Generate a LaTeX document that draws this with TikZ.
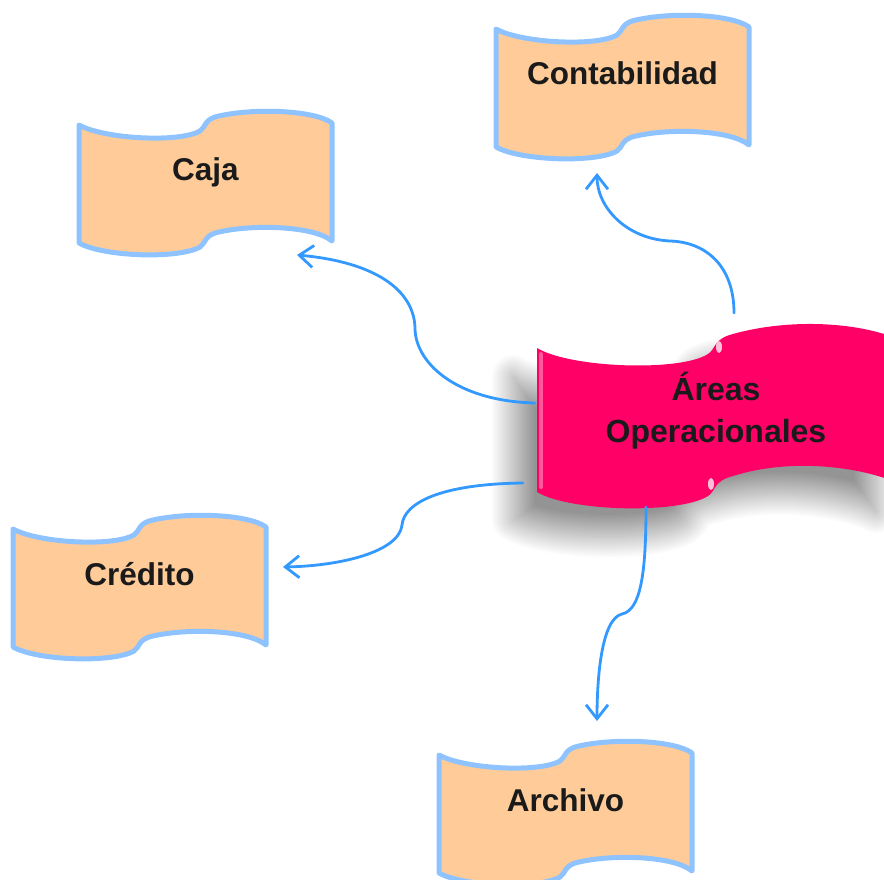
\documentclass[tikz,border=0pt]{standalone}
\usepackage{fontspec}
\setmainfont{Liberation Sans}
\usetikzlibrary{arrows.meta,shadows.blur}

\definecolor{peach}{HTML}{FFCC99}
\definecolor{rim}{HTML}{8EC3FF}
\definecolor{rosa}{HTML}{FF0066}
\definecolor{linkblue}{HTML}{3399FF}
\definecolor{ink}{HTML}{1A1A1A}

\tikzset{
  bannershape/.style={fill=peach, draw=rim, line width=5pt, line join=round, line cap=round},
  bannertext/.style={font=\fontsize{31.5}{38}\selectfont\bfseries, text=ink, inner sep=0pt, anchor=base},
  maintext/.style={font=\fontsize{32}{42}\selectfont\bfseries, text=ink, inner sep=0pt, align=center},
  link/.style={draw=linkblue, line width=2.8pt, line cap=round,
    -{Straight Barb[length=14pt,width=22pt]}},
  gloss/.style={fill=white, opacity=0.75}
}

% waving banner: #1,#2 = top-left corner, #3 = node name, #4 = label
\newcommand\wavebanner[4]{%
  \begin{scope}[shift={(#1,#2)}]
    \path[bannershape] (0,0)
      .. controls (25,14) and (100,18) .. (121,6)
      .. controls (127,2) and (125,-6) .. (140,-9)
      .. controls (175,-17) and (235,-15) .. (253,-2)
      -- (253,116)
      .. controls (235,101) and (175,99) .. (140,107)
      .. controls (125,110) and (127,118) .. (121,122)
      .. controls (100,134) and (25,132) .. (0,118)
      -- cycle;
    \node[bannertext] (#3) at (126.5,56) {#4};
  \end{scope}}

\begin{document}
\begin{tikzpicture}[x=1pt,y=-1pt]
  \useasboundingbox (0,0) rectangle (884,880);

  % outer banners
  \wavebanner{79}{125}{caja}{Caja}
  \wavebanner{496}{29}{conta}{Contabilidad}
  \wavebanner{13}{529}{credito}{Crédito}
  \wavebanner{439}{755}{archivo}{Archivo}

  % central banner with drop shadow
  \path[fill=rosa, blur shadow={shadow xshift=-24pt, shadow yshift=-28pt,
      shadow blur radius=22pt, shadow blur steps=60, shadow opacity=42}]
    (537,348)
    .. controls (570,368) and (680,372) .. (708,354)
    .. controls (716,349) and (713,339) .. (733,334)
    .. controls (790,318) and (860,322) .. (900,340)
    -- (900,484)
    .. controls (860,466) and (790,458) .. (733,476)
    .. controls (713,481) and (716,491) .. (708,496)
    .. controls (680,514) and (570,512) .. (537,492)
    -- cycle;
  % highlights on the central banner
  \draw[white, opacity=0.35, line width=4pt, line cap=round] (541,354) -- (541,487);
  \fill[gloss] (719,347) ellipse [x radius=3, y radius=6];
  \fill[gloss] (711,484) ellipse [x radius=3, y radius=6];
  \node[maintext] (areas) at (716,411) {Áreas\\Operacionales};

  % connector end points
  \coordinate (areas-w)  at (535,403);
  \coordinate (areas-n)  at (734,313);
  \coordinate (areas-sw) at (523,483);
  \coordinate (areas-s)  at (646,507);
  \coordinate (caja-in)    at (297,255);
  \coordinate (conta-in)   at (597,173);
  \coordinate (credito-in) at (283,567);
  \coordinate (archivo-in) at (597,721);

  % connectors
  \draw[link] (areas-w) .. controls (455,401) and (415,362) .. (415,328)
              .. controls (414,290) and (375,262) .. (caja-in);
  \draw[link] (areas-n) .. controls (734,265) and (705,242) .. (670,241)
              .. controls (627,239) and (597,208) .. (conta-in);
  \draw[link] (areas-sw) .. controls (440,484) and (404,503) .. (402,525)
              .. controls (399,552) and (340,566) .. (credito-in);
  \draw[link] (areas-s) .. controls (646,572) and (641,610) .. (622,614)
              .. controls (601,619) and (597,680) .. (archivo-in);
\end{tikzpicture}
\end{document}
